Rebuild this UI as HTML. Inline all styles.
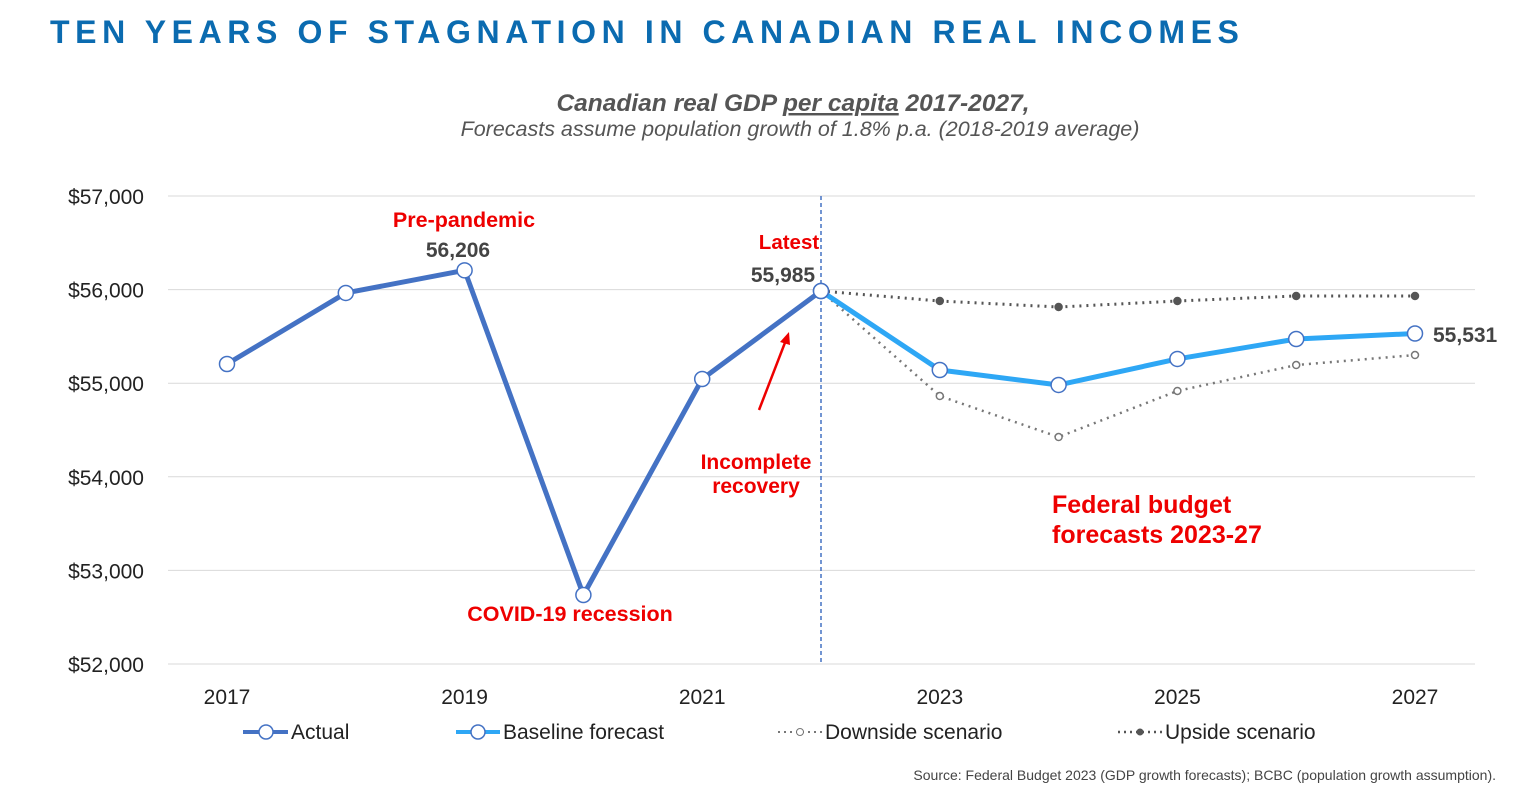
<!DOCTYPE html>
<html><head><meta charset="utf-8"><style>
body{margin:0;width:1536px;height:794px;background:#fff;overflow:hidden;font-family:"Liberation Sans",sans-serif}
</style></head><body>
<svg width="1536" height="794" xmlns="http://www.w3.org/2000/svg">
<text x="50" y="43" font-size="32" font-weight="bold" fill="#0b6bb0" letter-spacing="5.6">TEN YEARS OF STAGNATION IN CANADIAN REAL INCOMES</text>
<text x="793" y="111" text-anchor="middle" font-size="24.5" font-weight="bold" font-style="italic" fill="#555">Canadian real GDP <tspan text-decoration="underline">per capita</tspan> 2017-2027,</text>
<text x="800" y="136" text-anchor="middle" font-size="21.5" font-style="italic" fill="#555">Forecasts assume population growth of 1.8% p.a. (2018-2019 average)</text>
<g id="grid"></g><g id="marks"></g>
<text x="789" y="249" font-size="20.5" font-weight="bold" fill="#e00" text-anchor="middle">Latest</text>
<text x="783" y="282" font-size="21" font-weight="bold" fill="#444" text-anchor="middle">55,985</text>
<text x="464" y="227" font-size="21.5" font-weight="bold" fill="#e00" text-anchor="middle">Pre-pandemic</text>
<text x="458" y="257" font-size="21" font-weight="bold" fill="#444" text-anchor="middle">56,206</text>
<text x="570" y="621" font-size="21.5" font-weight="bold" fill="#e00" text-anchor="middle">COVID-19 recession</text>
<text x="756" y="469" font-size="21" font-weight="bold" fill="#e00" text-anchor="middle">Incomplete</text>
<text x="756" y="493" font-size="21" font-weight="bold" fill="#e00" text-anchor="middle">recovery</text>
<line x1="759" y1="410" x2="786" y2="340" stroke="#e00" stroke-width="2.5"/>
<polygon points="789,332 780,342 790,345" fill="#e00"/>
<text x="1052" y="513" font-size="25" font-weight="bold" fill="#e00">Federal budget</text>
<text x="1052" y="543" font-size="25" font-weight="bold" fill="#e00">forecasts 2023-27</text>
<text x="1433" y="342" font-size="21" font-weight="bold" fill="#444">55,531</text>
<g font-size="21" fill="#222">
<line x1="243" y1="732" x2="288" y2="732" stroke="#4472c4" stroke-width="4"/><circle cx="266" cy="732" r="7" fill="#fff" stroke="#4472c4" stroke-width="1.5"/><text x="291" y="739">Actual</text>
<line x1="456" y1="732" x2="500" y2="732" stroke="#2ea7f5" stroke-width="4"/><circle cx="478" cy="732" r="7" fill="#fff" stroke="#4472c4" stroke-width="1.5"/><text x="503" y="739">Baseline forecast</text>
<line x1="778" y1="732" x2="822" y2="732" stroke="#777" stroke-width="2" stroke-dasharray="2,4"/><circle cx="800" cy="732" r="3.5" fill="#fff" stroke="#777"/><text x="825" y="739">Downside scenario</text>
<line x1="1118" y1="732" x2="1162" y2="732" stroke="#555" stroke-width="2.5" stroke-dasharray="2,4"/><circle cx="1140" cy="732" r="3.5" fill="#555"/><text x="1165" y="739">Upside scenario</text>
</g>
<text x="1496" y="780" font-size="14" fill="#444" text-anchor="end">Source: Federal Budget 2023 (GDP growth forecasts); BCBC (population growth assumption).</text>
</svg>
<script>
const years=[2017,2018,2019,2020,2021,2022,2023,2024,2025,2026,2027];
const actual=[55205,55964,56206,52737,55045,55985];
const baseline=[55985,55141,54981,55259,55472,55531];
const downside=[55985,54863,54425,54917,55194,55301];
const upside=[55985,55878,55814,55878,55932,55932];
const yTicks=[52000,53000,54000,55000,56000,57000];
const xTicks=[2017,2019,2021,2023,2025,2027];
const NS="http://www.w3.org/2000/svg";
const x=yr=>227+(yr-2017)*118.8;
const y=v=>664-(v-52000)*0.0936;
function mk(t,a,p){const e=document.createElementNS(NS,t);for(const k in a)e.setAttribute(k,a[k]);p.appendChild(e);return e;}
const g=document.getElementById('grid'),m=document.getElementById('marks');
yTicks.forEach(v=>{
 const l=mk('line',{x1:168,x2:1475,y1:y(v),y2:y(v),stroke:'#d9d9d9','stroke-width':1},g);
 
 
 const t=mk('text',{x:144,y:y(v)+8,'text-anchor':'end','font-size':21,fill:'#222'},g);
 t.textContent='$'+v.toLocaleString('en-US');
 
 
});
xTicks.forEach(yr=>{
 const t=mk('text',{x:x(yr),y:704,'text-anchor':'middle','font-size':21,fill:'#222'},g);
 t.textContent=yr;
 
 
});
const vl=mk('line',{x1:x(2022),x2:x(2022),y1:196,y2:664,stroke:'#4472c4','stroke-width':1.5,'stroke-dasharray':'4,3'},g);


function series(vals,startYr,name,stroke,w,dash,r,fill,pstroke){
 const pts=vals.map((v,i)=>x(startYr+i)+','+y(v)).join(' ');
 const pl=mk('polyline',{points:pts,fill:'none',stroke:stroke,'stroke-width':w,'stroke-dasharray':dash||'none','stroke-linejoin':'round'},m);
 
 
 vals.forEach((v,i)=>{
  const c=mk('circle',{cx:x(startYr+i),cy:y(v),r:r,fill:fill,stroke:pstroke,'stroke-width':1.5},m);
  
  
 });
}
series(downside,2022,'downside','#777',2.5,'2,5',3.5,'#fff','#777');
series(upside,2022,'upside','#555',3,'2,5',3.5,'#555','#555');
series(baseline,2022,'baseline','#2ea7f5',5,null,7.5,'#fff','#4472c4');
series(actual,2017,'actual','#4472c4',5,null,7.5,'#fff','#4472c4');
</script>
</body></html>
